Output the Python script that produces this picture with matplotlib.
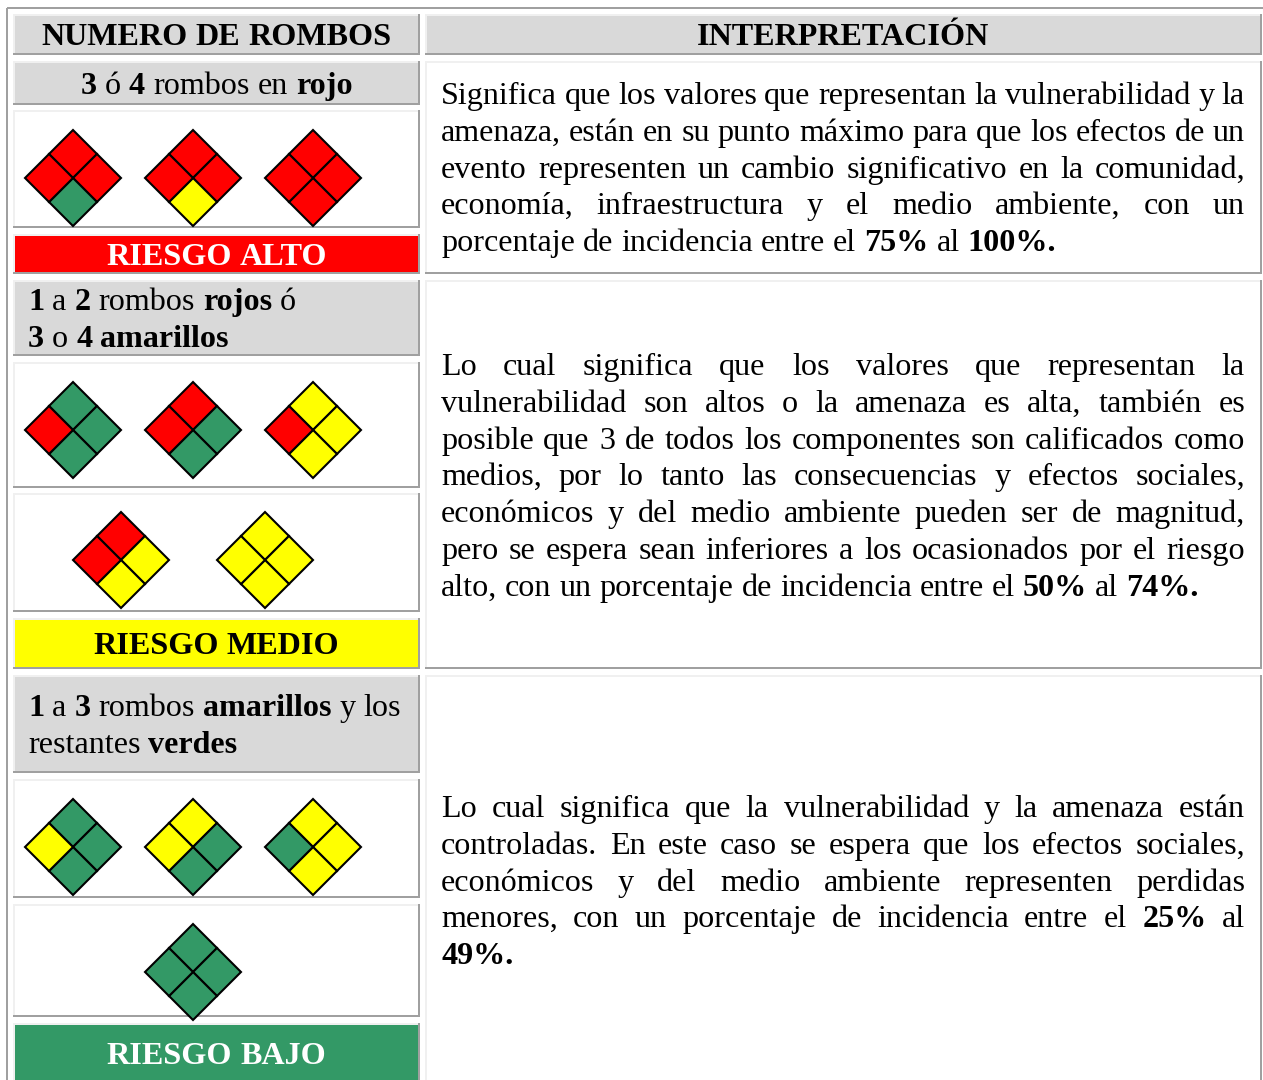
#!/usr/bin/env python3
"""Tabla de interpretacion de rombos de riesgo, dibujada en pixeles."""

import matplotlib
matplotlib.use("Agg")
import matplotlib.pyplot as plt
from matplotlib.font_manager import FontProperties
from matplotlib.patches import Polygon, Rectangle

R, Y, G = "#ff0000", "#ffff00", "#339966"
GRAY = "#d9d9d9"
EDGE_DARK = "#a0a0a0"
EDGE_LIGHT = "#f0f0f0"

HEADERS = ["NUMERO DE ROMBOS", "INTERPRETACIÓN"]

# quadrants of each diamond: top, right, bottom, left
DIAMONDS_ALTO = [[R, R, G, R], [R, R, Y, R], [R, R, R, R]]
DIAMONDS_MEDIO_A = [[G, G, G, R], [R, G, G, R], [Y, Y, Y, R]]
DIAMONDS_MEDIO_B = [[R, Y, Y, R], [Y, Y, Y, Y]]
DIAMONDS_BAJO_A = [[G, G, G, Y], [Y, G, G, Y], [Y, Y, Y, G]]
DIAMONDS_BAJO_B = [[G, G, G, G]]

# a leading * marks a bold word
TEXT_ALTO = [
    "Significa que los valores que representan la vulnerabilidad y la",
    "amenaza, están en su punto máximo para que los efectos de un",
    "evento representen un cambio significativo en la comunidad,",
    "economía, infraestructura y el medio ambiente, con un",
    "porcentaje de incidencia entre el *75% al *100%.",
]
TEXT_MEDIO = [
    "Lo cual significa que los valores que representan la",
    "vulnerabilidad son altos o la amenaza es alta, también es",
    "posible que 3 de todos los componentes son calificados como",
    "medios, por lo tanto las consecuencias y efectos sociales,",
    "económicos y del medio ambiente pueden ser de magnitud,",
    "pero se espera sean inferiores a los ocasionados por el riesgo",
    "alto, con un porcentaje de incidencia entre el *50% al *74%.",
]
TEXT_BAJO = [
    "Lo cual significa que la vulnerabilidad y la amenaza están",
    "controladas. En este caso se espera que los efectos sociales,",
    "económicos y del medio ambiente representen perdidas",
    "menores, con un porcentaje de incidencia entre el *25% al",
    "*49%.",
]

SERIF = ["Liberation Serif", "DejaVu Serif"]
FONT_PX = 32.15
DPI = 100
INK = "#000000"

fig = plt.figure(figsize=(12.63, 10.8), dpi=DPI)
ax = fig.add_axes([0, 0, 1, 1])
ax.set_xlim(0, 1263)
ax.set_ylim(1080, 0)
ax.axis("off")
renderer = fig.canvas.get_renderer()


def font(bold):
    return FontProperties(family=SERIF, weight="bold" if bold else "normal",
                          size=FONT_PX * 72 / DPI)


def width(s, bold):
    # renderer answers in pixels, which is also our data unit
    return renderer.get_text_width_height_descent(s, font(bold), False)[0]


def parse(line):
    return [(w.lstrip("*"), w.startswith("*")) for w in line.split()]


def draw_words(words, x, y, gap, color=INK):
    for w, b in words:
        ax.text(x, y, w, fontproperties=font(b), color=color, va="baseline", ha="left")
        x += width(w, b) + gap


def line_left(line, x, y, color=INK):
    draw_words(parse(line), x, y, width(" ", False), color)


def line_center(line, cx, y, color=INK):
    words = parse(line)
    gap = width(" ", False)
    total = sum(width(w, b) for w, b in words) + gap * (len(words) - 1)
    draw_words(words, cx - total / 2, y, gap, color)


def line_justified(line, x0, x1, y):
    words = parse(line)
    total = sum(width(w, b) for w, b in words)
    draw_words(words, x0, y, (x1 - x0 - total) / (len(words) - 1))


def cell(x0, y0, x1, y1, fill="white"):
    ax.add_patch(Rectangle((x0, y0), x1 - x0, y1 - y0, fc=fill, ec="none", zorder=0))
    ax.plot([x0, x1], [y0 + 1, y0 + 1], color=EDGE_LIGHT, lw=1.44, zorder=1, solid_capstyle="butt")
    ax.plot([x0 + 1, x0 + 1], [y0, y1], color=EDGE_LIGHT, lw=1.44, zorder=1, solid_capstyle="butt")
    ax.plot([x0, x1], [y1 - 1, y1 - 1], color=EDGE_DARK, lw=1.44, zorder=1, solid_capstyle="butt")
    ax.plot([x1 - 1, x1 - 1], [y0, y1], color=EDGE_DARK, lw=1.44, zorder=1, solid_capstyle="butt")


def diamond(cx, cy, colors, h=48):
    t, r, b, l = (cx, cy - h), (cx + h, cy), (cx, cy + h), (cx - h, cy)
    mid = lambda p, q: ((p[0] + q[0]) / 2, (p[1] + q[1]) / 2)
    c = (cx, cy)
    quads = [
        [t, mid(t, r), c, mid(t, l)],
        [mid(t, r), r, mid(r, b), c],
        [c, mid(r, b), b, mid(b, l)],
        [mid(t, l), c, mid(b, l), l],
    ]
    for q, col in zip(quads, colors):
        ax.add_patch(Polygon(q, closed=True, fc=col, ec="black", lw=1.5, zorder=3,
                             joinstyle="miter"))


def diamonds(xs, cy, rows):
    for x, colors in zip(xs, rows):
        diamond(x, cy, colors)


# outer table border
ax.plot([7, 7], [1080, 8], color=EDGE_DARK, lw=1.44, zorder=1, solid_capstyle="butt")
ax.plot([7, 1263], [8, 8], color=EDGE_DARK, lw=1.44, zorder=1, solid_capstyle="butt")

LX0, LX1, RX0, RX1 = 13, 420, 425, 1262
LC = 216.5

# header row
cell(LX0, 14, LX1, 55, GRAY)
cell(RX0, 14, RX1, 55, GRAY)
line_center("*" + HEADERS[0].replace(" ", " *"), LC, 45)
line_center("*" + HEADERS[1], 843, 45)

# riesgo alto
cell(LX0, 61, LX1, 105, GRAY)
line_center("*3 ó *4 rombos en *rojo", LC, 94)
cell(LX0, 110, LX1, 228)
diamonds([73, 193, 313], 178, DIAMONDS_ALTO)
cell(LX0, 234, LX1, 274, R)
line_center("*RIESGO *ALTO", LC, 265, "white")
cell(RX0, 61, RX1, 274)

# riesgo medio
cell(LX0, 280, LX1, 356, GRAY)
line_left("*1 a *2 rombos *rojos ó", 28, 310)
line_left("*3 o *4 *amarillos", 28, 347)
cell(LX0, 362, LX1, 488)
diamonds([73, 193, 313], 430, DIAMONDS_MEDIO_A)
cell(LX0, 493, LX1, 612)
diamonds([121, 265], 560, DIAMONDS_MEDIO_B)
cell(LX0, 618, LX1, 669, Y)
line_center("*RIESGO *MEDIO", LC, 654)
cell(RX0, 280, RX1, 669)

# riesgo bajo
cell(LX0, 675, LX1, 773, GRAY)
line_left("*1 a *3 rombos *amarillos y los", 28, 716)
line_left("restantes *verdes", 28, 753)
cell(LX0, 779, LX1, 898)
diamonds([73, 193, 313], 847, DIAMONDS_BAJO_A)
cell(LX0, 904, LX1, 1017)
diamonds([193], 972, DIAMONDS_BAJO_B)
cell(LX0, 1023, LX1, 1085, G)
line_center("*RIESGO *BAJO", LC, 1064, "white")
cell(RX0, 675, RX1, 1085)


def paragraph(lines, y0, step):
    for i, line in enumerate(lines):
        y = round(y0 + i * step)
        if i == len(lines) - 1:
            line_left(line, 441, y)
        else:
            line_justified(line, 441, 1245, y)


paragraph(TEXT_ALTO, 104, 36.8)
paragraph(TEXT_MEDIO, 375, 36.8)
paragraph(TEXT_BAJO, 817, 36.8)

fig.savefig("out.png", dpi=DPI, facecolor="white")
plt.close(fig)
